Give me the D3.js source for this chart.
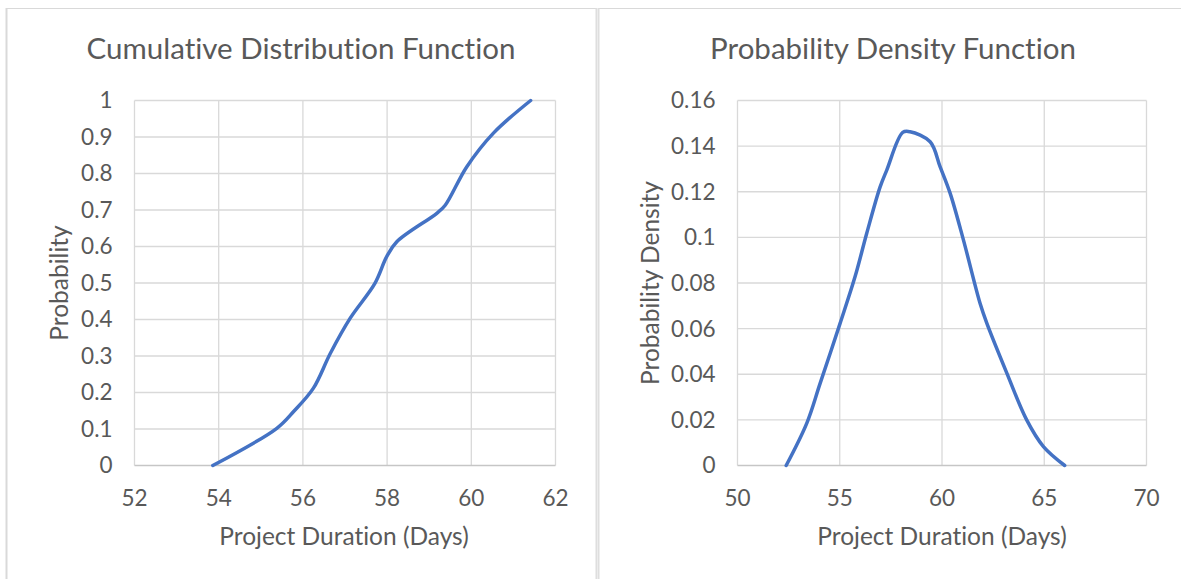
<!DOCTYPE html>
<html>
<head>
<meta charset="utf-8">
<script src="https://cdn.jsdelivr.net/npm/d3@7"></script>
<style>
  body { margin: 0; background: #fff; }
  text { font-family: Lato, "Open Sans", sans-serif; fill: #595959; font-variant-ligatures: none; }
</style>
</head>
<body>
<div id="chart"></div>
<script>
// CDF series
const cdfDays = [53.86, 55.38, 55.78, 56.25, 56.65, 57.12, 57.71, 57.99, 58.23, 59.18, 59.38, 59.89, 60.52, 61.41];
const cdfProb = [0, 0.102, 0.148, 0.212, 0.307, 0.403, 0.499, 0.572, 0.613, 0.691, 0.713, 0.818, 0.91, 1];
const cdfXTicks = [52, 54, 56, 58, 60, 62];
const cdfYTicks = [0, 0.1, 0.2, 0.3, 0.4, 0.5, 0.6, 0.7, 0.8, 0.9, 1];

// PDF series
const pdfDays = [52.38, 53.39, 54.04, 55.02, 55.75, 56.32, 56.97, 57.3, 58.08, 58.44, 59.42, 59.91, 60.4, 61.05, 61.86, 62.19, 63.17, 64.14, 64.96, 66.0];
const pdfDens = [0, 0.0186, 0.036, 0.0624, 0.0828, 0.1018, 0.122, 0.1295, 0.146, 0.1463, 0.1419, 0.1309, 0.1193, 0.0988, 0.0711, 0.0624, 0.0405, 0.02, 0.0083, 0];
const pdfXTicks = [50, 55, 60, 65, 70];
const pdfYTicks = [0, 0.02, 0.04, 0.06, 0.08, 0.1, 0.12, 0.14, 0.16];

const W = 1181, H = 579;
const svg = d3.select("#chart").append("svg").attr("width", W).attr("height", H);

// outer frames
svg.append("line").attr("x1", 6).attr("x2", W).attr("y1", 8.5).attr("y2", 8.5)
  .attr("stroke", "#d9d9d9").attr("stroke-width", 1);
svg.append("line").attr("x1", 6.5).attr("x2", 6.5).attr("y1", 8).attr("y2", H)
  .attr("stroke", "#d9d9d9").attr("stroke-width", 2);
svg.append("rect").attr("x", 595.5).attr("y", 8).attr("width", 4).attr("height", H - 8)
  .attr("fill", "#dedede");
svg.append("line").attr("x1", 597.5).attr("x2", 597.5).attr("y1", 8).attr("y2", H)
  .attr("stroke", "#ececec").attr("stroke-width", 1);

function drawChart(opts) {
  const { left, right, top, bottom, xDomain, yDomain, xTicks, yTicks, xs, ys,
          title, xTitle, yTitle, titleX, xTitleX, yTitleX, yFmt } = opts;

  const x = d3.scaleLinear().domain(xDomain).range([left, right]);
  const y = d3.scaleLinear().domain(yDomain).range([bottom, top]);
  const g = svg.append("g");

  // gridlines
  g.selectAll(".vg").data(xTicks).join("line")
    .attr("x1", d => x(d)).attr("x2", d => x(d))
    .attr("y1", top).attr("y2", bottom)
    .attr("stroke", "#d9d9d9").attr("stroke-width", 1.3);
  g.selectAll(".hg").data(yTicks).join("line")
    .attr("x1", left).attr("x2", right)
    .attr("y1", d => y(d)).attr("y2", d => y(d))
    .attr("stroke", d => d === 0 ? "#c6c6c6" : "#d9d9d9").attr("stroke-width", 1.3);

  // tick labels
  g.selectAll(".yl").data(yTicks).join("text")
    .attr("x", left - 22).attr("y", d => y(d)).attr("dy", "0.35em")
    .attr("text-anchor", "end").style("font-size", "22.5px")
    .text(yFmt);
  g.selectAll(".xl").data(xTicks).join("text")
    .attr("x", d => x(d)).attr("y", bottom + 40)
    .attr("text-anchor", "middle").style("font-size", "22.5px")
    .text(d => d);

  // titles
  g.append("text").attr("x", titleX).attr("y", 59)
    .attr("text-anchor", "middle").style("font-size", "29.5px").text(title);
  g.append("text").attr("x", xTitleX).attr("y", 545)
    .attr("text-anchor", "middle").style("font-size", "24.5px").text(xTitle);
  g.append("text")
    .attr("transform", `translate(${yTitleX},${(top + bottom) / 2}) rotate(-90)`)
    .attr("text-anchor", "middle").style("font-size", "24.5px").text(yTitle);

  // series line
  const pts = xs.map((d, i) => [d, ys[i]]);
  const line = d3.line()
    .x(d => x(d[0]))
    .y(d => y(d[1]))
    .curve(d3.curveCatmullRom.alpha(0.5));
  g.append("path").datum(pts)
    .attr("d", line)
    .attr("fill", "none")
    .attr("stroke", "#4472c4")
    .attr("stroke-width", 3.5)
    .attr("stroke-linecap", "round")
    .attr("stroke-linejoin", "round");
}

drawChart({
  left: 134.5, right: 555.5, top: 100.5, bottom: 465.5,
  xDomain: [52, 62], yDomain: [0, 1],
  xTicks: cdfXTicks, yTicks: cdfYTicks, xs: cdfDays, ys: cdfProb,
  title: "Cumulative Distribution Function", titleX: 301,
  xTitle: "Project Duration (Days)", xTitleX: 344,
  yTitle: "Probability", yTitleX: 68,
  yFmt: d => d
});

drawChart({
  left: 737.5, right: 1146.5, top: 100.5, bottom: 465.5,
  xDomain: [50, 70], yDomain: [0, 0.16],
  xTicks: pdfXTicks, yTicks: pdfYTicks, xs: pdfDays, ys: pdfDens,
  title: "Probability Density Function", titleX: 893,
  xTitle: "Project Duration (Days)", xTitleX: 942,
  yTitle: "Probability Density", yTitleX: 659,
  yFmt: d => +d.toFixed(2)
});
</script>
</body>
</html>
